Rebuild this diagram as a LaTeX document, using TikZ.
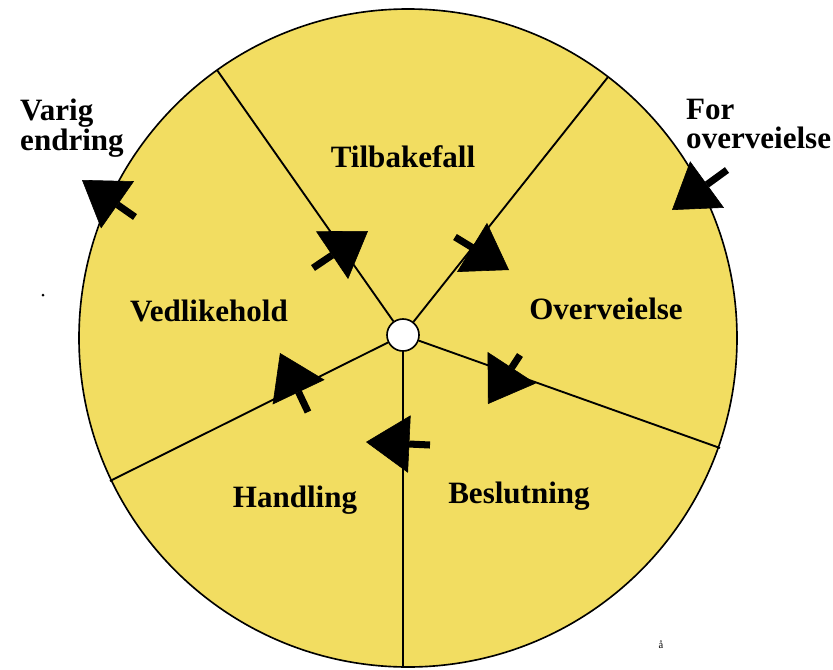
\documentclass[tikz,border=0pt]{standalone}
\usepackage{fontspec}
\setmainfont{Liberation Serif}
\usetikzlibrary{arrows.meta}
\definecolor{gul}{RGB}{242,221,97}
\begin{document}
\begin{tikzpicture}[x=0.03cm,y=-0.03cm,font=\fontsize{26.5}{25}\selectfont\bfseries,
	pil/.style={line width=6pt,-{Triangle[length=37pt,width=49pt,line width=0.5pt]}},
	ut/.style={align=left,anchor=north west,inner sep=0pt}]
	\useasboundingbox (0,0) rectangle (833,670);
	%Sirkel, nav og eiker:
	\draw[fill=gul,line width=1.4pt] (408,338) circle[radius=329];
	\node[circle,draw,fill=white,line width=1.4pt,inner sep=0pt,minimum size=0.96cm] (hub) at (403,335) {};
	\path
	(217,70) coordinate (e1)
	(608,77) coordinate (e2)
	(720,448) coordinate (e3)
	(403,667) coordinate (e4)
	(110,481) coordinate (e5);
	\draw[line width=1.6pt](hub)--(e1)(hub)--(e2)(hub)--(e3)(hub)--(e4)(hub)--(e5);
	%Faser:
	\node (tilbake) at (403,157) {Tilbakefall};
	\node (vedlike) at (209,311) {Vedlikehold};
	\node (overv) at (606,309) {Overveielse};
	\node (handl) at (295,500) {Handling};
	\node (beslut) at (519,496) {Beslutning};
	\node[ut] (varig) at (20,99) {Varig\\endring};
	\node[ut] (forov) at (686,99) {For\\overveielse};
	%Piler:
	\path
	(313,268) coordinate (p1a) (368,231) coordinate (p1b)
	(455,237) coordinate (p2a) (509,270) coordinate (p2b)
	(520,355) coordinate (p3a) (488,404) coordinate (p3b)
	(430,445) coordinate (p4a) (366,442) coordinate (p4b)
	(308,412) coordinate (p5a) (280,353) coordinate (p5b)
	(135,217) coordinate (p6a) (82,180) coordinate (p6b)
	(727,170) coordinate (p7a) (672,210) coordinate (p7b);
	\draw[pil](p1a)--(p1b);
	\draw[pil](p2a)--(p2b);
	\draw[pil](p3a)--(p3b);
	\draw[pil](p4a)--(p4b);
	\draw[pil](p5a)--(p5b);
	\draw[pil](p6a)--(p6b);
	\draw[pil](p7a)--(p7b);
	%Smaa merker:
	\fill (43,295) circle[radius=1.5];
	\node[font=\fontsize{9}{9}\selectfont] (merke) at (661,645) {å};
\end{tikzpicture}
\end{document}
